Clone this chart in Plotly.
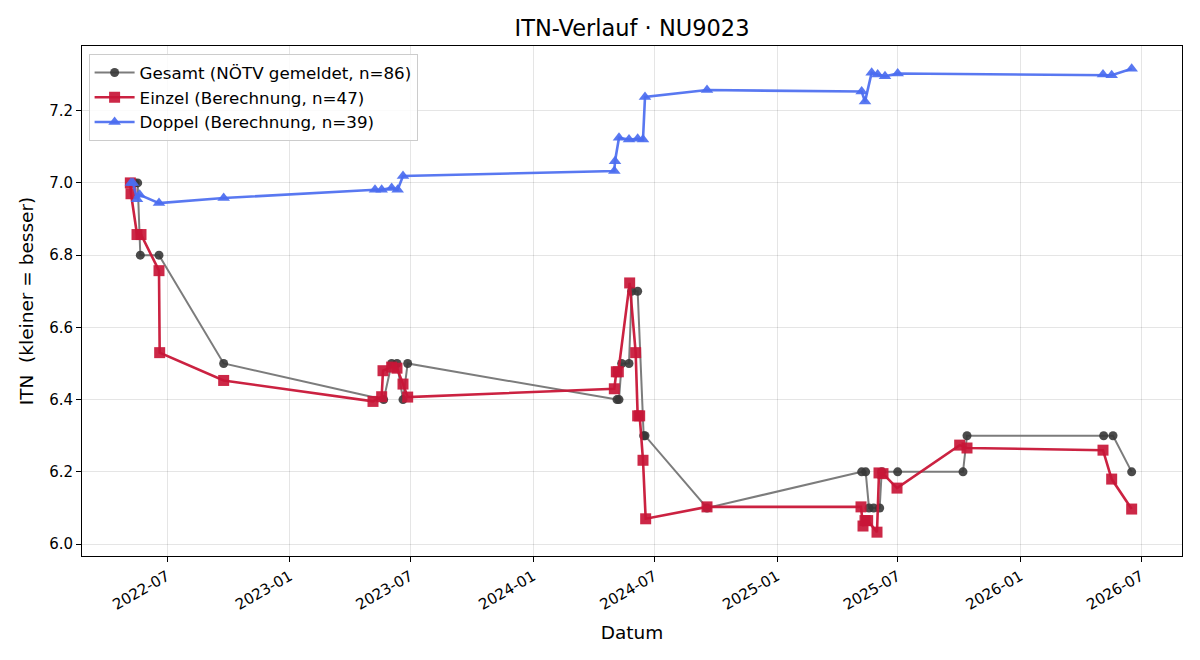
import plotly.graph_objects as go

gesamt_dates = ["2022-05-14", "2022-05-18", "2022-05-22", "2022-06-19", "2022-09-24",
                "2023-05-22", "2023-06-03", "2023-06-11", "2023-06-20", "2023-06-27",
                "2024-05-06", "2024-05-09", "2024-05-13", "2024-05-24", "2024-05-28",
                "2024-06-06", "2024-06-15", "2024-06-17", "2024-09-18",
                "2025-05-08", "2025-05-14", "2025-05-19", "2025-05-26", "2025-06-04",
                "2025-06-07", "2025-07-01", "2025-10-07", "2025-10-13",
                "2026-05-06", "2026-05-20", "2026-06-17"]
gesamt_vals = [7.0, 7.0, 6.8, 6.8, 6.5,
               6.4, 6.5, 6.5, 6.4, 6.5,
               6.4, 6.4, 6.5, 6.5, 6.7,
               6.7, 6.3, 6.3, 6.1,
               6.2, 6.2, 6.1, 6.1, 6.1,
               6.2, 6.2, 6.2, 6.3,
               6.3, 6.3, 6.2]

einzel_dates = ["2022-05-07", "2022-05-08", "2022-05-17", "2022-05-23", "2022-06-19",
                "2022-06-20", "2022-09-24", "2023-05-06", "2023-05-19", "2023-05-21",
                "2023-06-03", "2023-06-11", "2023-06-20", "2023-06-27",
                "2024-05-02", "2024-05-05", "2024-05-08", "2024-05-25", "2024-06-03",
                "2024-06-06", "2024-06-09", "2024-06-14", "2024-06-18", "2024-09-18",
                "2025-05-07", "2025-05-10", "2025-05-13", "2025-05-17", "2025-05-31",
                "2025-06-03", "2025-06-09", "2025-06-30", "2025-10-02", "2025-10-13",
                "2026-05-05", "2026-05-18", "2026-06-17"]
einzel_vals = [7.0, 6.97, 6.857, 6.857, 6.757,
               6.53, 6.453, 6.395, 6.408, 6.48,
               6.49, 6.487, 6.443, 6.407,
               6.43, 6.477, 6.477, 6.723, 6.53,
               6.355, 6.355, 6.232, 6.07, 6.103,
               6.103, 6.05, 6.065, 6.065, 6.033,
               6.197, 6.195, 6.155, 6.274, 6.266,
               6.26, 6.18, 6.097]

doppel_dates = ["2022-05-08", "2022-05-11", "2022-05-17", "2022-05-21", "2022-06-19",
                "2022-09-24", "2023-05-09", "2023-05-19", "2023-06-03", "2023-06-12",
                "2023-06-20", "2024-05-02", "2024-05-03", "2024-05-09", "2024-05-24",
                "2024-06-06", "2024-06-14", "2024-06-17", "2024-09-18",
                "2025-05-08", "2025-05-13", "2025-05-23", "2025-06-01", "2025-06-12",
                "2025-07-01", "2026-05-05", "2026-05-18", "2026-06-17"]
doppel_vals = [7.0, 7.0, 6.955, 6.967, 6.944,
               6.958, 6.981, 6.981, 6.986, 6.981,
               7.019, 7.033, 7.06, 7.125, 7.12,
               7.122, 7.12, 7.238, 7.257,
               7.253, 7.225, 7.305, 7.3, 7.295,
               7.303, 7.3, 7.298, 7.316]

y_ticks = [6.0, 6.2, 6.4, 6.6, 6.8, 7.0, 7.2]

FONT = "DejaVu Sans"

fig = go.Figure()
fig.add_trace(go.Scatter(
    x=gesamt_dates, y=gesamt_vals, mode="lines+markers",
    name="Gesamt (NÖTV gemeldet, n=86)",
    line=dict(color="rgba(110,110,110,0.9)", width=2),
    marker=dict(symbol="circle", size=9, color="rgba(55,55,55,0.9)"),
))
fig.add_trace(go.Scatter(
    x=einzel_dates, y=einzel_vals, mode="lines+markers",
    name="Einzel (Berechnung, n=47)",
    line=dict(color="rgba(200,22,55,0.95)", width=2.6),
    marker=dict(symbol="square", size=11, color="rgba(200,22,55,0.92)"),
))
fig.add_trace(go.Scatter(
    x=doppel_dates, y=doppel_vals, mode="lines+markers",
    name="Doppel (Berechnung, n=39)",
    line=dict(color="rgba(75,108,240,0.92)", width=2.6),
    marker=dict(symbol="triangle-up", size=11, color="rgba(75,108,240,0.92)"),
))

fig.update_layout(
    width=1200, height=660,
    margin=dict(l=82, r=18, t=46, b=104),
    paper_bgcolor="white", plot_bgcolor="white",
    font=dict(family=FONT, size=15, color="black"),
    title=dict(text="ITN-Verlauf · NU9023", x=0.5, xref="paper", xanchor="center",
               y=1 - 28 / 660, yanchor="middle", font=dict(size=22.5, family=FONT)),
    showlegend=True,
    legend=dict(x=0.006, y=0.984, xanchor="left", yanchor="top",
                bgcolor="rgba(255,255,255,0.85)", bordercolor="#cccccc", borderwidth=1,
                font=dict(size=16.7, family=FONT), tracegroupgap=0, itemwidth=40),
)
fig.update_xaxes(
    type="date", range=["2022-02-23 12:00", "2026-08-31 12:00"],
    tick0="2022-07-01", dtick="M6", tickformat="%Y-%m", tickangle=-30,
    ticks="outside", ticklen=5, tickcolor="black",
    showgrid=True, gridcolor="rgba(0,0,0,0.1)", gridwidth=1,
    showline=True, linecolor="black", linewidth=1, mirror=True,
    zeroline=False, tickfont=dict(size=15),
    title=dict(text="Datum", font=dict(size=18.5), standoff=13),
)
fig.update_yaxes(
    range=[5.967, 7.379], tickvals=y_ticks, tickformat=".1f",
    ticks="outside", ticklen=5, tickcolor="black",
    showgrid=True, gridcolor="rgba(0,0,0,0.1)", gridwidth=1,
    showline=True, linecolor="black", linewidth=1, mirror=True,
    zeroline=False, tickfont=dict(size=15),
    title=dict(text="ITN  (kleiner = besser)", font=dict(size=18.5), standoff=10),
)

fig.write_html("out.html")
